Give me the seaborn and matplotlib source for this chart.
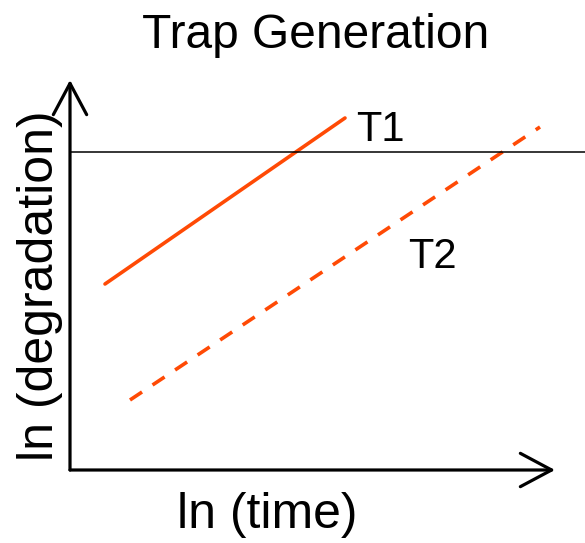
import matplotlib
matplotlib.use("Agg")
import matplotlib.pyplot as plt
import seaborn as sns
import pandas as pd

# ln(time) / ln(degradation) in arbitrary units
t1_time = [0.35, 2.75]
t1_degr = [1.86, 3.52]
t2_time = [0.60, 4.70]
t2_degr = [0.70, 3.43]
threshold = 3.18
series_labels = ["T1", "T2"]

sns.set_style("white")
plt.rcParams["font.family"] = ["Liberation Sans", "DejaVu Sans"]
plt.rcParams["text.color"] = "black"

color = "#ff4a05"
W, H = 585, 543
fig = plt.figure(figsize=(W / 100, H / 100), dpi=100)
ax = fig.add_axes([70 / W, 73 / H, 515 / W, 390 / H])
ax.set_xlim(0, 5.15)
ax.set_ylim(0, 3.9)

df = pd.concat([
    pd.DataFrame({"time": t1_time, "deg": t1_degr, "trap": series_labels[0]}),
    pd.DataFrame({"time": t2_time, "deg": t2_degr, "trap": series_labels[1]}),
])
sns.lineplot(data=df, x="time", y="deg", style="trap", color=color,
             linewidth=2.6, dashes={"T1": "", "T2": (4, 3.5)},
             legend=False, ax=ax)

ax.axhline(threshold, color="black", linewidth=1.1)

# axes drawn as arrows
arrow_kw = dict(arrowstyle="->,head_length=0.75,head_width=0.4",
                lw=2.3, color="black", mutation_scale=30, shrinkA=0, shrinkB=0)
ax.annotate("", xy=(4.85, 0), xytext=(0, 0), arrowprops=arrow_kw,
            annotation_clip=False)
ax.annotate("", xy=(0, 3.9), xytext=(0, 0), arrowprops=arrow_kw,
            annotation_clip=False)

for s in ax.spines.values():
    s.set_visible(False)
ax.set_xticks([])
ax.set_yticks([])
ax.set_xlabel("")
ax.set_ylabel("")

ax.text(3.1, 3.4, series_labels[0], fontsize=30, ha="center", va="center",
        color="black")
ax.text(3.62, 2.13, series_labels[1], fontsize=30, ha="center", va="center",
        color="black")

fig.text(316 / W, 1 - 48 / H, "Trap Generation", fontsize=34.5,
         ha="center", va="baseline", color="black")
fig.text(267 / W, 1 - 528 / H, "ln (time)", fontsize=36,
         ha="center", va="baseline", color="black")
fig.text(53 / W, 1 - 286 / H, "ln (degradation)", fontsize=36,
         ha="center", va="baseline", rotation=90, rotation_mode="anchor",
         color="black")

fig.savefig("out.png", dpi=100)
